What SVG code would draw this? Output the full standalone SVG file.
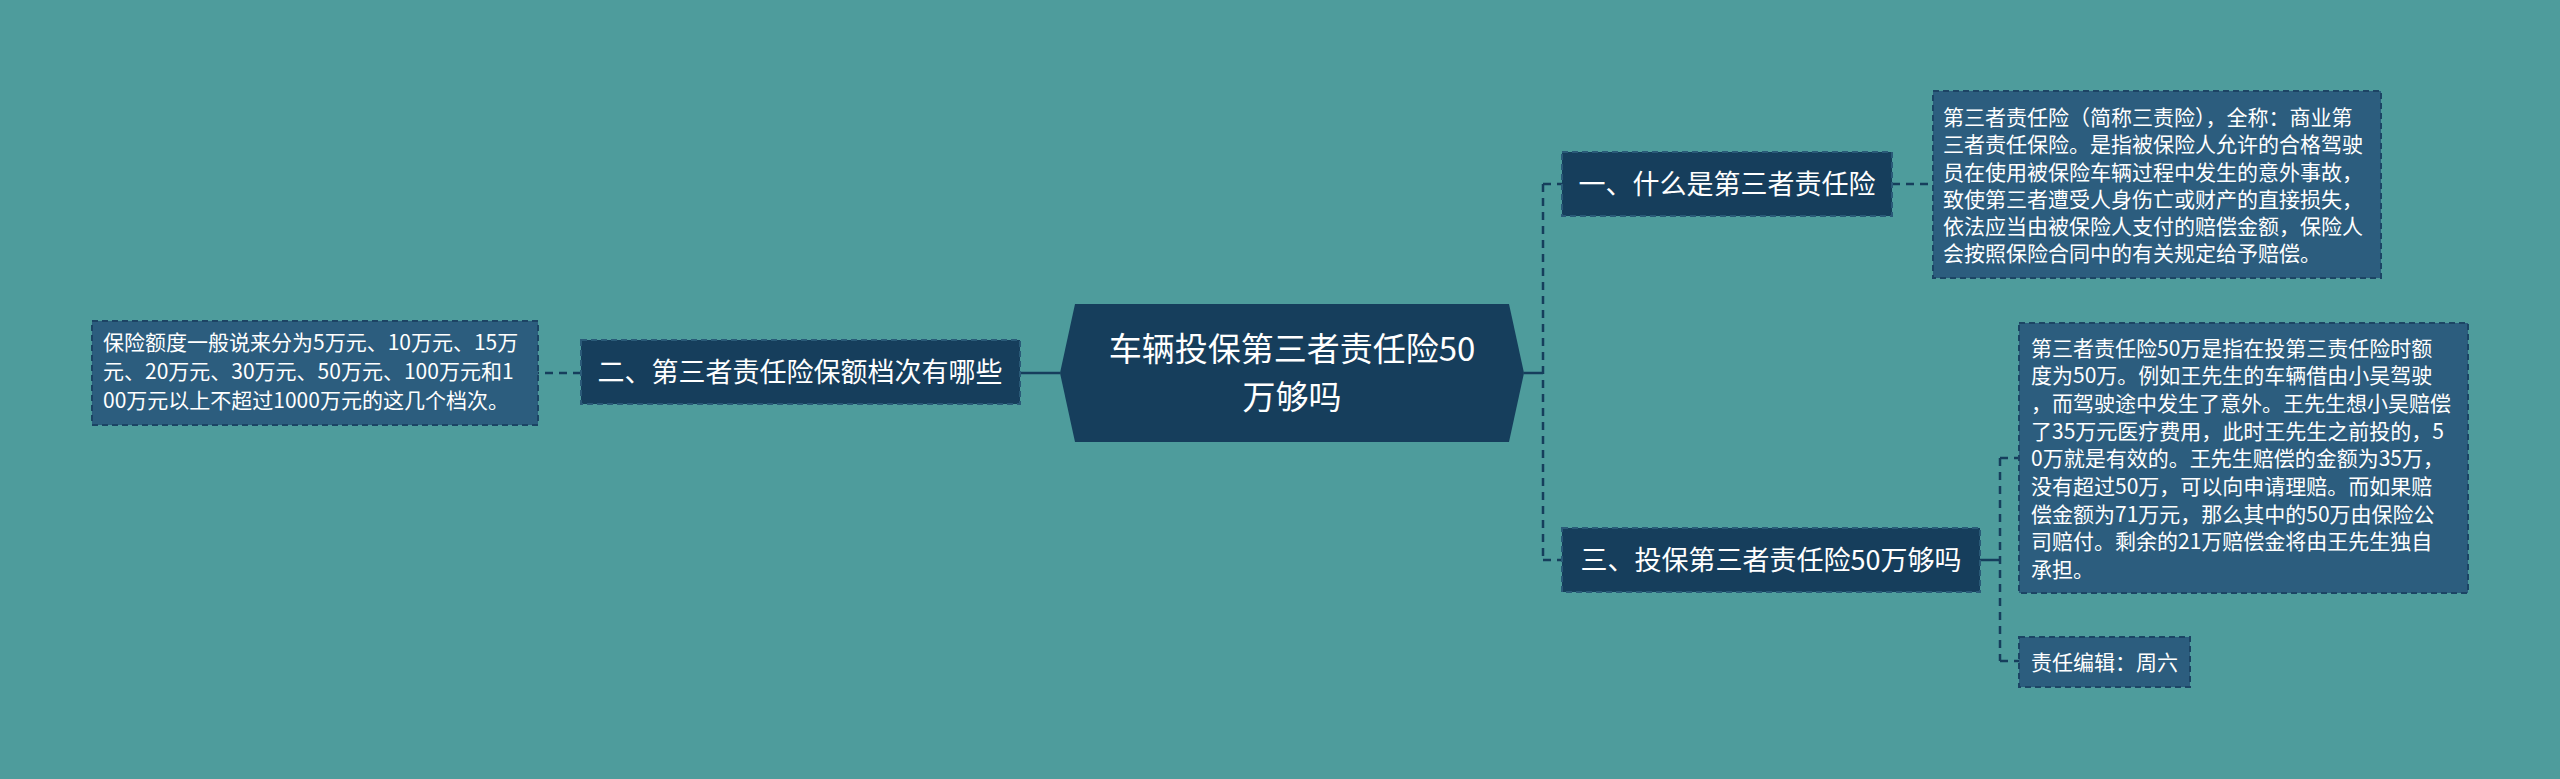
<svg xmlns="http://www.w3.org/2000/svg" width="2560" height="779" viewBox="0 0 2560 779">
<style>
text{font-family:"Noto Sans CJK SC","Noto Sans",sans-serif;fill:#fff}
.topic{fill:#163e5c;stroke:#2a5a78;stroke-width:2;stroke-dasharray:6 4}
.leaf{fill:#2c5d7e;stroke:#1c4464;stroke-width:2;stroke-dasharray:6 4}
.lt{font-size:21px}
.tt{font-size:27px}
.c{fill:none;stroke:#163e5c;stroke-width:2.5}
.d{stroke-dasharray:8 6}
</style>
<rect width="2560" height="779" fill="#4e9c9c"/>
<g id="connectors">
<path class="c" d="M1524 373H1543"/>
<path class="c d" d="M1543 184V560M1543 184H1562M1543 560H1562"/>
<path class="c" d="M1060 373H1020"/>
<path class="c d" d="M581 373H538"/>
<path class="c d" d="M1892 184H1933"/>
<path class="c" d="M1980 560H2000"/>
<path class="c d" d="M2000 458V661M2000 458H2019M2000 661H2019"/>
</g>
<g id="center">
<path d="M1060 373L1075 304H1509L1524 373L1509 442H1075Z" fill="#163e5c"/>
<text x="1292" y="361" font-size="33" text-anchor="middle">车辆投保第三者责任险50</text>
<text x="1292" y="409" font-size="33" text-anchor="middle">万够吗</text>
</g>
<g id="topic2">
<rect class="topic" x="581" y="340" width="439" height="64"/>
<text class="tt" x="800" y="382" text-anchor="middle">二、第三者责任险保额档次有哪些</text>
</g>
<g id="leaf2">
<rect class="leaf" x="92" y="321" width="446" height="104"/>
<text class="lt"><tspan x="103" y="350">保险额度一般说来分为5万元、10万元、15万</tspan><tspan x="103" y="379">元、20万元、30万元、50万元、100万元和1</tspan><tspan x="103" y="408">00万元以上不超过1000万元的这几个档次。</tspan></text>
</g>
<g id="topic1">
<rect class="topic" x="1562" y="152" width="330" height="64"/>
<text class="tt" x="1727" y="194" text-anchor="middle">一、什么是第三者责任险</text>
</g>
<g id="leaf1">
<rect class="leaf" x="1933" y="91" width="448" height="187"/>
<text class="lt"><tspan x="1943" y="125">第三者责任险（简称三责险），全称：商业第</tspan><tspan x="1943" y="152">三者责任保险。是指被保险人允许的合格驾驶</tspan><tspan x="1943" y="180">员在使用被保险车辆过程中发生的意外事故，</tspan><tspan x="1943" y="207">致使第三者遭受人身伤亡或财产的直接损失，</tspan><tspan x="1943" y="234">依法应当由被保险人支付的赔偿金额，保险人</tspan><tspan x="1943" y="261">会按照保险合同中的有关规定给予赔偿。</tspan></text>
</g>
<g id="topic3">
<rect class="topic" x="1562" y="528" width="418" height="64"/>
<text class="tt" x="1771" y="570" text-anchor="middle">三、投保第三者责任险50万够吗</text>
</g>
<g id="leaf3">
<rect class="leaf" x="2019" y="323" width="449" height="270"/>
<text class="lt"><tspan x="2031" y="356">第三者责任险50万是指在投第三责任险时额</tspan><tspan x="2031" y="383">度为50万。例如王先生的车辆借由小吴驾驶</tspan><tspan x="2031" y="411">，而驾驶途中发生了意外。王先生想小吴赔偿</tspan><tspan x="2031" y="439">了35万元医疗费用，此时王先生之前投的，5</tspan><tspan x="2031" y="466">0万就是有效的。王先生赔偿的金额为35万，</tspan><tspan x="2031" y="494">没有超过50万，可以向申请理赔。而如果赔</tspan><tspan x="2031" y="522">偿金额为71万元，那么其中的50万由保险公</tspan><tspan x="2031" y="549">司赔付。剩余的21万赔偿金将由王先生独自</tspan><tspan x="2031" y="577">承担。</tspan></text>
</g>
<g id="leaf4">
<rect class="leaf" x="2019" y="637" width="171" height="50"/>
<text class="lt" x="2031" y="670">责任编辑：周六</text>
</g>
</svg>
